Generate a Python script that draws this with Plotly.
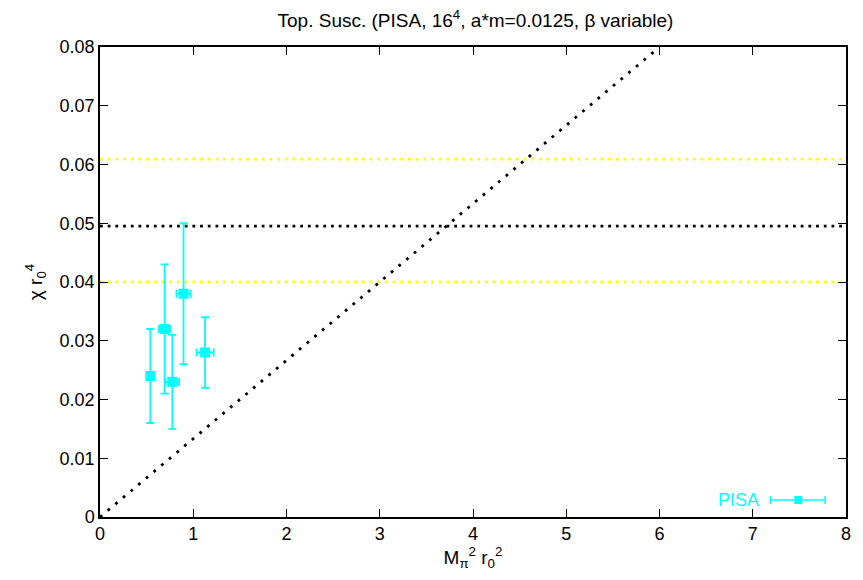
import plotly.graph_objects as go

# data
mpi2r02 = [0.54, 0.693, 0.775, 0.896, 1.127]
mpi2r02_err = [0.0, 0.06, 0.073, 0.076, 0.092]
chir04 = [0.024, 0.032, 0.023, 0.038, 0.028]
chir04_err_plus = [0.008, 0.011, 0.008, 0.012, 0.006]
chir04_err_minus = [0.008, 0.011, 0.008, 0.012, 0.006]

band_center = 0.0495
band_low = 0.040
band_high = 0.0609
slope_x = [0, 6]
slope_y = [0, 0.08]

x_ticks = [0, 1, 2, 3, 4, 5, 6, 7, 8]
y_ticks = [0, 0.01, 0.02, 0.03, 0.04, 0.05, 0.06, 0.07, 0.08]
y_ticklabels = ["0", "0.01", "0.02", "0.03", "0.04", "0.05", "0.06", "0.07", "0.08"]

cyan = "#00ffff"
dot = "2.8px,4.9px"
FONT = "Liberation Sans, Arial, sans-serif"
FS = 18

fig = go.Figure()

fig.add_trace(go.Scatter(x=[0, 8], y=[band_high, band_high], mode="lines",
                         line=dict(color="#ffff00", width=2.8, dash=dot), showlegend=False))
fig.add_trace(go.Scatter(x=[0, 8], y=[band_low, band_low], mode="lines",
                         line=dict(color="#ffff00", width=2.8, dash=dot), showlegend=False))
fig.add_trace(go.Scatter(x=[0, 8], y=[band_center, band_center], mode="lines",
                         line=dict(color="black", width=2.8, dash=dot), showlegend=False))
fig.add_trace(go.Scatter(x=slope_x, y=slope_y, mode="lines",
                         line=dict(color="black", width=2.8, dash="2.8px,7.2px"), showlegend=False))

fig.add_trace(go.Scatter(
    x=mpi2r02, y=chir04, mode="markers",
    marker=dict(symbol="square", size=10, color=cyan),
    error_y=dict(type="data", array=chir04_err_plus, arrayminus=chir04_err_minus,
                 color=cyan, thickness=1.8, width=4),
    error_x=dict(type="data", array=mpi2r02_err, color=cyan, thickness=1.8, width=4),
    showlegend=False))

# legend (bottom right)
fig.add_annotation(xref="paper", yref="paper", x=(765 - 100) / 751, y=(517 - 500) / 470,
                   text="PISA", showarrow=False, xanchor="right", yanchor="middle",
                   font=dict(color=cyan, size=FS, family=FONT))
lx0, lx1, lxm = (775 - 100) / 751, (830 - 100) / 751, (803 - 100) / 751
ly = (517 - 500) / 470
fig.add_shape(type="line", xref="paper", yref="paper", x0=lx0, x1=lx1, y0=ly, y1=ly,
              line=dict(color=cyan, width=1.5))
for xx in (lx0, lx1):
    fig.add_shape(type="line", xref="paper", yref="paper", x0=xx, x1=xx,
                  y0=ly - 4 / 470, y1=ly + 4 / 470, line=dict(color=cyan, width=1.5))
fig.add_shape(type="rect", xref="paper", yref="paper", x0=lxm - 4 / 751, x1=lxm + 4 / 751,
              y0=ly - 4 / 470, y1=ly + 4 / 470, line=dict(width=0), fillcolor=cyan)

axis_common = dict(showline=True, linecolor="black", linewidth=1.5, mirror="allticks",
                   ticks="inside", ticklen=8, tickcolor="black", tickwidth=1,
                   showgrid=False, zeroline=False,
                   tickfont=dict(family=FONT, size=FS, color="black"))

fig.update_layout(
    width=863, height=580,
    margin=dict(l=100, r=12, t=47, b=63),
    paper_bgcolor="white", plot_bgcolor="white",
    font=dict(family=FONT, size=FS, color="black"),
    title=dict(text="Top. Susc. (PISA, 16<sup>4</sup>, a*m=0.0125, β variable)",
               x=(100 + 751 / 2) / 863, xanchor="center", y=1 - 20 / 580, yanchor="middle",
               font=dict(family=FONT, size=FS + 1, color="black")),
    xaxis=dict(range=[0, 8], tickvals=x_ticks, ticktext=[str(t) for t in x_ticks],
               title=dict(text="M<sub>π</sub><sup>2</sup> r<sub>0</sub><sup>2</sup>",
                          font=dict(family=FONT, size=FS + 1), standoff=2),
               **axis_common),
    yaxis=dict(range=[0, 0.08], tickvals=y_ticks, ticktext=y_ticklabels,
               title=dict(text="χ r<sub>0</sub><sup>4</sup>",
                          font=dict(family=FONT, size=FS + 1), standoff=12),
               **axis_common),
)

fig.write_html("out.html", config={"displayModeBar": False},
               post_script="document.body.style.margin='0';document.body.style.overflow='hidden';")
